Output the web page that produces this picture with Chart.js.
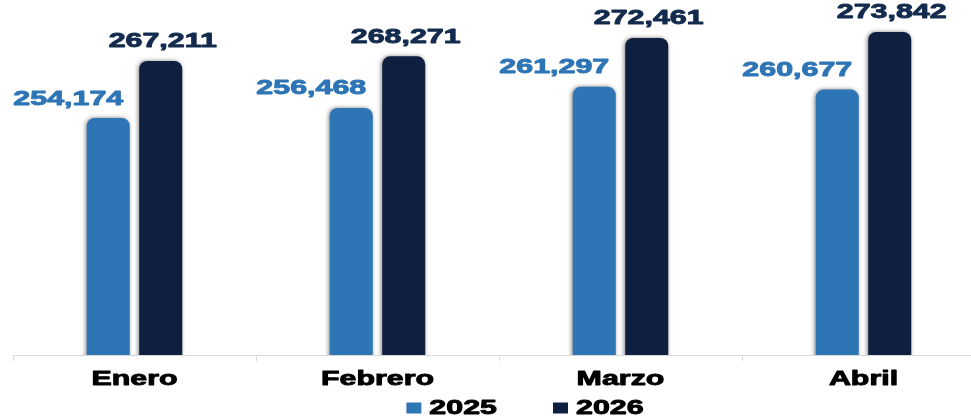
<!DOCTYPE html>
<html>
<head>
<meta charset="utf-8">
<script src="https://cdn.jsdelivr.net/npm/chart.js@4/dist/chart.umd.min.js"></script>
<style>
    html, body { margin: 0; padding: 0; background: #ffffff; overflow: hidden; }
    canvas { display: block; }
</style>
</head>
<body>
<canvas id="graph1" width="1000" height="417"></canvas>
<script>
const months = ["Enero", "Febrero", "Marzo", "Abril"]
const values2025 = [254174, 256468, 261297, 260677]
const values2026 = [267211, 268271, 272461, 273842]
const seriesNames = ["2025", "2026"]
const barColors = ["#2E75B6", "#0E1F40"]
const labelColors = ["#2E75B6", "#132B4E"]

const FONT = "bold 20px 'Liberation Sans', Arial, sans-serif"
const STRETCH = 1.52

const drawStretched = (ctx, text, x, y, color, align) => {
    ctx.save()
    ctx.font = FONT
    ctx.fillStyle = color
    ctx.strokeStyle = color
    ctx.lineWidth = 0.9
    ctx.lineJoin = "round"
    ctx.textAlign = align || "center"
    ctx.textBaseline = "middle"
    ctx.translate(x, y)
    ctx.scale(STRETCH, 1)
    ctx.fillText(text, 0, 0)
    ctx.strokeText(text, 0, 0)
    ctx.restore()
}

const barShadow = {
    id: "barShadow",
    beforeDatasetsDraw: (chart) => {
        const ctx = chart.ctx
        ctx.save()
        ctx.shadowColor = "rgba(0,0,0,0.5)"
        ctx.shadowBlur = 4
        ctx.shadowOffsetX = -1
        ctx.shadowOffsetY = 0
    },
    afterDatasetsDraw: (chart) => {
        chart.ctx.restore()
    },
}

const texts = {
    id: "texts",
    afterDraw: (chart) => {
        const ctx = chart.ctx
        const area = chart.chartArea

        // value labels
        chart.data.datasets.forEach((ds, i) => {
            const meta = chart.getDatasetMeta(i)
            meta.data.forEach((bar, j) => {
                const shift = i === 0 ? -40 : 2
                const text = ds.data[j].toLocaleString("en-US")
                drawStretched(ctx, text, bar.x + shift, bar.y - 19, labelColors[i])
            })
        })

        // month labels
        const xScale = chart.scales.x
        months.forEach((m, j) => {
            drawStretched(ctx, m, xScale.getPixelForValue(j), area.bottom + 24, "#000000")
        })

        // legend
        ctx.save()
        ctx.font = FONT
        const widths = seriesNames.map((s) => ctx.measureText(s).width * STRETCH)
        ctx.restore()
        const boxW = 15
        const boxH = 11
        const gap = 8
        const itemGap = 56
        const total = widths.reduce((a, w) => a + boxW + gap + w, 0) + itemGap
        let x = 525 - total / 2
        const y = 408
        seriesNames.forEach((s, i) => {
            ctx.fillStyle = barColors[i]
            ctx.fillRect(x, y - boxH / 2, boxW, boxH)
            drawStretched(ctx, s, x + boxW + gap, y, "#000000", "left")
            x += boxW + gap + widths[i] + itemGap
        })
    },
}

const config1 = {
    type: "bar",
    data: {
        labels: months,
        datasets: [
            {
                label: seriesNames[0],
                data: values2025,
                backgroundColor: barColors[0],
                borderRadius: 8,
                borderSkipped: false,
                categoryPercentage: 0.432,
                barPercentage: 0.82,
            },
            {
                label: seriesNames[1],
                data: values2026,
                backgroundColor: barColors[1],
                borderRadius: 8,
                borderSkipped: false,
                categoryPercentage: 0.432,
                barPercentage: 0.82,
            },
        ],
    },
    options: {
        responsive: false,
        animation: false,
        devicePixelRatio: 1,
        layout: {
            padding: { top: 5, bottom: 0, left: 13, right: 15 },
        },
        plugins: {
            legend: { display: false },
            tooltip: { enabled: false },
        },
        scales: {
            x: {
                offset: true,
                border: { display: true, color: "#D9D9D9", width: 1 },
                grid: {
                    offset: true,
                    drawOnChartArea: false,
                    drawTicks: true,
                    tickLength: 6,
                    color: "#D9D9D9",
                },
                ticks: { display: false },
                afterFit: (scale) => {
                    scale.height = 62
                },
            },
            y: {
                display: false,
                min: 200000,
                max: 280000,
            },
        },
    },
    plugins: [barShadow, texts],
}

const chart1 = new Chart(document.getElementById("graph1"), config1)
</script>
</body>
</html>
